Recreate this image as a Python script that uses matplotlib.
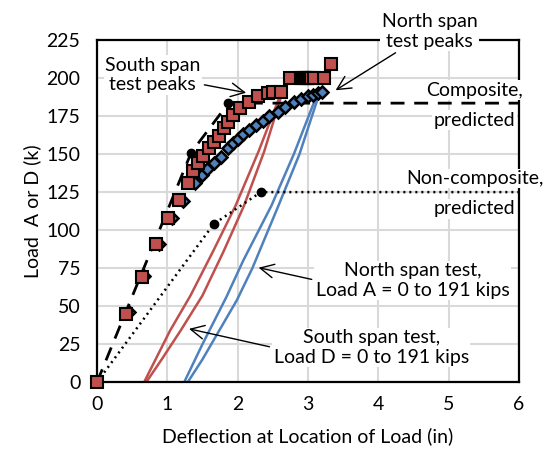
import matplotlib
matplotlib.use("Agg")
import matplotlib.pyplot as plt
import numpy as np

plt.rcParams['font.family'] = ['Lato', 'DejaVu Sans']

# South span test peaks (red squares)
south_x = [0, 0.41, 0.64, 0.84, 1.01, 1.16, 1.30, 1.37, 1.44, 1.51, 1.59, 1.66, 1.73, 1.80,
           1.87, 1.94, 2.04, 2.16, 2.29, 2.43, 2.51, 2.61,
           2.74, 2.90, 2.93, 2.96, 2.99, 3.02, 3.05, 3.08, 3.23, 3.33]
south_y = [0, 45, 69, 91, 108, 120, 131, 139, 144, 149, 154, 158, 162, 167,
           171, 176, 180, 184, 188, 190, 191, 191,
           200, 200, 200, 200, 200, 200, 200, 200, 200, 209]

# North span test peaks (blue diamonds)
north_x = [0, 0.45, 0.67, 0.88, 1.07, 1.23, 1.40, 1.50, 1.57, 1.66, 1.76, 1.87, 1.94, 2.01,
           2.08, 2.16, 2.26, 2.36, 2.44, 2.57, 2.68, 2.80, 2.90, 3.00, 3.07, 3.14, 3.20]
north_y = [0, 46, 70, 91, 108, 119, 131, 136, 140, 144, 148, 154, 157, 160,
           163, 166, 169, 172, 175, 178, 181, 184, 186, 188, 189, 190, 191]

# predicted curves
comp_x = [0, 1.34, 1.87, 6]
comp_y = [0, 151, 183.5, 183.5]
noncomp_x = [0, 1.66, 2.33, 6]
noncomp_y = [0, 104, 125, 125]

# south span test, Load D cycle (two curves)
sD1_x = [0.67, 1.04, 1.33, 1.65, 1.97, 2.30, 2.60]
sD1_y = [0, 34, 57, 86, 116, 152, 188]
sD2_x = [0.70, 0.92, 1.19, 1.50, 1.80, 2.09, 2.38, 2.62]
sD2_y = [0, 15, 34, 57, 86, 116, 152, 188]

# north span test, Load A cycle (two curves)
nA1_x = [1.24, 1.50, 1.84, 2.08, 2.48, 2.80, 3.12]
nA1_y = [0, 25, 56, 80, 116, 150, 188]
nA2_x = [1.29, 1.50, 1.99, 2.21, 2.58, 2.88, 3.15]
nA2_y = [0, 15, 54, 75, 116, 150, 188]

red = '#C0504D'
blue = '#4F81BD'
fs = 14

fig = plt.figure(figsize=(5.45, 4.55), dpi=100)
ax = fig.add_axes([0.178, 0.160, 0.774, 0.752])

ax.plot(sD1_x, sD1_y, color=red, lw=1.8, zorder=2)
ax.plot(sD2_x, sD2_y, color=red, lw=1.8, zorder=2)
ax.plot(nA1_x, nA1_y, color=blue, lw=1.8, zorder=2)
ax.plot(nA2_x, nA2_y, color=blue, lw=1.8, zorder=2)

ax.plot(comp_x, comp_y, color='black', lw=2, dashes=(5, 3.5), zorder=2.2)
ax.plot(comp_x[1:3], comp_y[1:3], 'o', color='black', ms=6, zorder=2.2)
ax.plot(noncomp_x, noncomp_y, color='black', lw=1.8, dashes=(0.8, 1.6), zorder=2.2)
ax.plot(noncomp_x[1:3], noncomp_y[1:3], 'o', color='black', ms=6, zorder=2.2)

ax.plot(north_x, north_y, 'D', ms=6.5, mfc=blue, mec='black', mew=1.8, ls='none', zorder=3)
ax.plot(south_x, south_y, 's', ms=8.5, mfc=red, mec='black', mew=1.5, ls='none',
        zorder=3.2, clip_on=False)

ax.set_xlim(0, 6)
ax.set_ylim(0, 225)
ax.set_xticks(np.arange(0, 7, 1))
ax.set_yticks(np.arange(0, 226, 25))
ax.grid(True, color='#D9D9D9', lw=1.5)
ax.set_axisbelow(True)
ax.tick_params(length=0, labelsize=fs)
ax.tick_params(axis='x', pad=10)
ax.tick_params(axis='y', pad=12)
for s in ax.spines.values():
    s.set_linewidth(1.6)
    s.set_color('black')
ax.set_xlabel('Deflection at Location of Load (in)', fontsize=fs, labelpad=10)
ax.set_ylabel('Load  A or D (k)', fontsize=fs, labelpad=4)

box = dict(facecolor='white', edgecolor='none', pad=1)
arrow = dict(arrowstyle='->,head_length=0.7,head_width=0.35', color='black', lw=1)

ax.annotate('South span\ntest peaks', xy=(2.16, 190), xytext=(0.79, 202),
            ha='center', va='center', fontsize=fs, arrowprops=arrow,
            bbox=box, zorder=4)
ax.annotate('North span\ntest peaks', xy=(3.36, 191), xytext=(4.73, 230.6),
            ha='center', va='center', fontsize=fs, arrowprops=arrow,
            bbox=box, zorder=4, annotation_clip=False)
ax.text(5.37, 192, 'Composite,', ha='center', va='center', fontsize=fs,
        bbox=box, zorder=4, clip_on=False)
ax.text(5.37, 172.4, 'predicted', ha='center', va='center', fontsize=fs,
        bbox=box, zorder=4, clip_on=False)
ax.text(5.37, 134, 'Non-composite,', ha='center', va='center', fontsize=fs,
        bbox=box, zorder=4, clip_on=False)
ax.text(5.37, 114, 'predicted', ha='center', va='center', fontsize=fs,
        bbox=box, zorder=4, clip_on=False)
ax.annotate('North span test,\nLoad A = 0 to 191 kips', xy=(2.26, 75.7), xytext=(4.49, 67),
            ha='center', va='center', fontsize=fs, bbox=box, zorder=4,
            arrowprops=dict(arrow, relpos=(0, 0.5)))
ax.annotate('South span test,\nLoad D = 0 to 191 kips', xy=(1.27, 35.5), xytext=(3.9, 22.7),
            ha='center', va='center', fontsize=fs, bbox=box, zorder=4,
            arrowprops=dict(arrow, relpos=(0, 0.5)))

fig.savefig('out.png', dpi=100)
